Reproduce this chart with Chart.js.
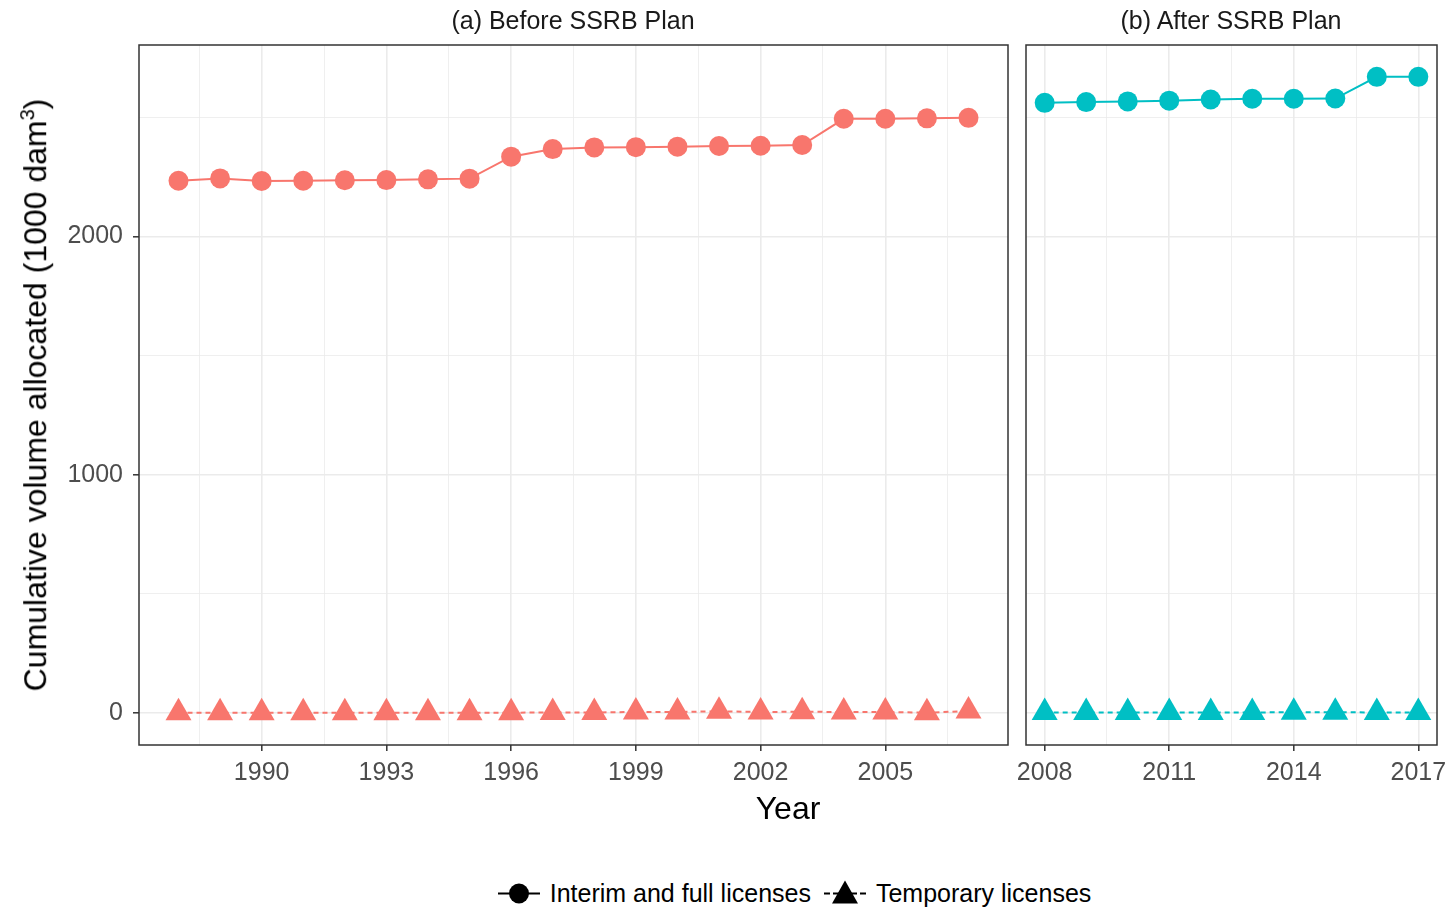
<!DOCTYPE html>
<html>
<head>
<meta charset="utf-8">
<script src="https://cdn.jsdelivr.net/npm/chart.js@4"></script>
<style>
    body { margin: 0; background: #fff; }
    #wrap { position: relative; width: 1448px; height: 907px; overflow: hidden; font-family: "Liberation Sans", Arial, sans-serif; }
    canvas { position: absolute; top: 0; }
    #leftCanvas { left: 0; }
    #rightCanvas { left: 1012px; }
    .facet-title { position: absolute; top: 20px; transform: translate(-50%, -50%); font-size: 25px; color: #1a1a1a; white-space: nowrap; }
    #xTitle { position: absolute; left: 788px; top: 808px; transform: translate(-50%, -50%); font-size: 32px; color: #000; }
    #yTitle { position: absolute; left: 35px; top: 395px; transform: translate(-50%, -50%) rotate(-90deg); font-size: 32px; color: #000; white-space: nowrap; }
    #yTitle sup { font-size: 20px; }
    #legend { position: absolute; left: 0; width: 1448px; top: 893px; transform: translateY(-50%); display: flex; justify-content: center; align-items: center; font-size: 25px; color: #000; padding-left: 154px; box-sizing: border-box; }
    .key { position: relative; width: 42px; height: 26px; margin-right: 10px; }
    .key .ln { position: absolute; left: 0; right: 0; top: 12px; height: 0; border-top: 2px solid #000; }
    .key .ln.dash { border-top-style: dashed; }
    .key .dot { position: absolute; left: 11px; top: 3px; width: 20px; height: 20px; border-radius: 50%; background: #000; }
    .key .tri { position: absolute; left: 8px; top: 0; width: 0; height: 0; border-left: 13px solid transparent; border-right: 13px solid transparent; border-bottom: 23px solid #000; }
    .lab { margin-right: 13px; }
</style>
</head>
<body>
<div id="wrap">
    <canvas id="leftCanvas" width="1012" height="790"></canvas>
    <canvas id="rightCanvas" width="436" height="790"></canvas>
    <div class="facet-title" style="left:573px">(a) Before SSRB Plan</div>
    <div class="facet-title" style="left:1231px">(b) After SSRB Plan</div>
    <div id="xTitle">Year</div>
    <div id="yTitle">Cumulative volume allocated (1000 dam<sup>3</sup>)</div>
    <div id="legend">
        <div class="key"><div class="ln"></div><div class="dot"></div></div><span class="lab">Interim and full licenses</span>
        <div class="key"><div class="ln dash"></div><div class="tri"></div></div><span class="lab">Temporary licenses</span>
    </div>
</div>
<script>
// values
const yearsBefore = [1988, 1989, 1990, 1991, 1992, 1993, 1994, 1995, 1996, 1997, 1998, 1999, 2000, 2001, 2002, 2003, 2004, 2005, 2006, 2007];
const interimBefore = [2233, 2243, 2232, 2233, 2235, 2236, 2239, 2242, 2334, 2366, 2373, 2374, 2376, 2379, 2380, 2383, 2493, 2493, 2495, 2497];
const temporaryBefore = [2, 2, 2, 2, 2, 2, 2, 2, 2, 3, 3, 5, 5, 8, 5, 6, 5, 5, 2, 9];

const yearsAfter = [2008, 2009, 2010, 2011, 2012, 2013, 2014, 2015, 2016, 2017];
const interimAfter = [2560, 2563, 2566, 2569, 2574, 2577, 2577, 2578, 2669, 2669];
const temporaryAfter = [3, 3, 3, 3, 3, 3, 4, 4, 3, 3];

const xTicksBefore = [1990, 1993, 1996, 1999, 2002, 2005];
const xMinorBefore = [1988.5, 1991.5, 1994.5, 1997.5, 2000.5, 2003.5, 2006.5];
const xTicksAfter = [2008, 2011, 2014, 2017];
const xMinorAfter = [2009.5, 2012.5, 2015.5];
const yTicks = [0, 1000, 2000];
const yMinor = [500, 1500, 2500];

const colorBefore = "#F8766D";
const colorAfter = "#00BFC4";
const gridColor = "#ebebeb";
const axisColor = "#333333";
const tickFont = { family: "'Liberation Sans', Arial, sans-serif", size: 25 };

Chart.defaults.font.family = "'Liberation Sans', Arial, sans-serif";

window.toPoints = (xs, ys)=>{
    let pts = [];
    for(let i = 0; i < xs.length; i++){
        pts.push({ x: xs[i], y: ys[i] });
    }
    return pts;
}

// ggplot style 5% padding around the data
window.expandRange = (lo, hi)=>{
    let pad = (hi - lo) * 0.05;
    return [lo - pad, hi + pad];
}

const panelBorder = {
    id: "panelBorder",
    afterDraw(chart){
        let a = chart.chartArea;
        let ctx = chart.ctx;
        ctx.save();
        ctx.strokeStyle = axisColor;
        ctx.lineWidth = 1.5;
        ctx.strokeRect(a.left, a.top, a.right - a.left, a.bottom - a.top);
        ctx.restore();
    }
};

window.buildScale = (majors, minors, range, showLabels, fitSize, isY)=>{
    let all = majors.concat(minors).sort((a, b)=>a - b);
    let isMajor = (v)=>majors.indexOf(v) !== -1;
    return {
        type: "linear",
        min: range[0],
        max: range[1],
        border: { display: false },
        afterBuildTicks: (scale)=>{
            scale.ticks = all.map(v=>({ value: v }));
        },
        afterFit: (scale)=>{
            if(isY){ scale.width = fitSize; } else { scale.height = fitSize; }
            // panel edges are fixed by layout.padding, labels may hang over
            scale.paddingLeft = 0;
            scale.paddingRight = 0;
        },
        grid: {
            color: gridColor,
            lineWidth: (c)=> c.tick && isMajor(c.tick.value) ? 1.6 : 0.8,
            drawTicks: showLabels,
            tickLength: 6,
            tickWidth: 1.5,
            tickColor: (c)=> c.tick && isMajor(c.tick.value) ? axisColor : "rgba(0,0,0,0)"
        },
        ticks: {
            display: showLabels,
            autoSkip: false,
            maxRotation: 0,
            padding: isY ? 10 : 7,
            color: "#4d4d4d",
            font: tickFont,
            callback: (v)=> isMajor(v) ? String(v) : ""
        }
    };
}

window.drawPanel = (canvasId, years, interim, temporary, color, xMajors, xMinors, padding, showY)=>{
    let yRange = expandRange(0, Math.max(...interimAfter));
    return new Chart(document.getElementById(canvasId), {
        type: "line",
        data: {
            datasets: [{
                label: "Interim and full licenses",
                data: toPoints(years, interim),
                borderColor: color,
                backgroundColor: color,
                borderWidth: 2,
                pointStyle: "circle",
                pointRadius: 10,
                pointBorderWidth: 0,
                pointHoverRadius: 10
            }, {
                label: "Temporary licenses",
                data: toPoints(years, temporary),
                borderColor: color,
                backgroundColor: color,
                borderWidth: 2,
                borderDash: [5, 4],
                pointStyle: "triangle",
                pointRadius: 15,
                pointBorderWidth: 0,
                pointHoverRadius: 15
            }]
        },
        options: {
            responsive: false,
            animation: false,
            devicePixelRatio: 1,
            layout: { padding, autoPadding: false },
            plugins: {
                legend: { display: false },
                tooltip: { enabled: false }
            },
            scales: {
                x: buildScale(xMajors, xMinors, expandRange(years[0], years[years.length - 1]), true, 45, false),
                y: buildScale(yTicks, yMinor, yRange, showY, showY ? 139 : 0, true)
            }
        },
        plugins: [panelBorder]
    });
}

drawPanel("leftCanvas", yearsBefore, interimBefore, temporaryBefore, colorBefore, xTicksBefore, xMinorBefore, { top: 45, right: 4, bottom: 0, left: 0 }, true);
drawPanel("rightCanvas", yearsAfter, interimAfter, temporaryAfter, colorAfter, xTicksAfter, xMinorAfter, { top: 45, right: 11, bottom: 0, left: 14 }, false);
</script>
</body>
</html>
